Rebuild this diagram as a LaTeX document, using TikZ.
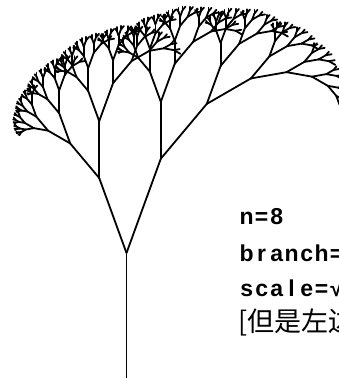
\documentclass[tikz,border=0pt]{standalone}
\usepackage{fontspec}
\setmainfont{Liberation Sans}
\newfontfamily\cjk{Noto Sans CJK SC}
\begin{document}
% fractal tree: left child scaled by \lscale, right child by \rscale
\def\lscale{0.566}
\def\rscale{0.712}
\def\brangle{20}
\def\frbranch#1#2#3#4#5{%
  \begingroup
  \pgfmathsetmacro\xe{#1+#4*cos(#3)}%
  \pgfmathsetmacro\ye{#2+#4*sin(#3)}%
  \draw[limb] (#1,#2) -- (\xe,\ye);
  \ifnum#5>0
    \pgfmathsetmacro\la{#4*\lscale}%
    \pgfmathsetmacro\ra{#4*\rscale}%
    \pgfmathsetmacro\aL{#3-\brangle}%
    \pgfmathsetmacro\aR{#3+\brangle}%
    \pgfmathtruncatemacro\dd{#5-1}%
    \edef\next{\noexpand\frbranch{\xe}{\ye}{\aL}{\la}{\dd}%
      \noexpand\frbranch{\xe}{\ye}{\aR}{\ra}{\dd}}%
    \next
  \fi
  \endgroup}
% monospaced cells for the Latin labels
\newlength\cellw \setlength\cellw{15pt}
\def\celloop#1{\ifx#1\relax\else\makebox[\cellw]{#1}\expandafter\celloop\fi}
\def\cells#1{\celloop#1\relax}
\begin{tikzpicture}[x=1pt,y=-1pt,
  limb/.style={line width=1.8pt,line cap=round,line join=round},
  txt/.style={anchor=base west,inner sep=0pt,font=\bfseries\fontsize{23}{23}\selectfont}]
\useasboundingbox (0,0) rectangle (339,378);
\fill[white] (0,0) rectangle (339,378);
\clip (0,0) rectangle (339,378);
\frbranch{126.5}{394}{-90}{141}{8}
\node[txt] (n) at (239,224) {\cells{n=8}};
\node[txt] (b) at (239,261) {\cells{branch=}};
\node[txt] (s) at (239,296) {\cells{scale=√}};
\node[txt,font=\cjk\fontsize{27}{27}\selectfont] (c) at (238,331) {[但是左边};
\end{tikzpicture}
\end{document}
